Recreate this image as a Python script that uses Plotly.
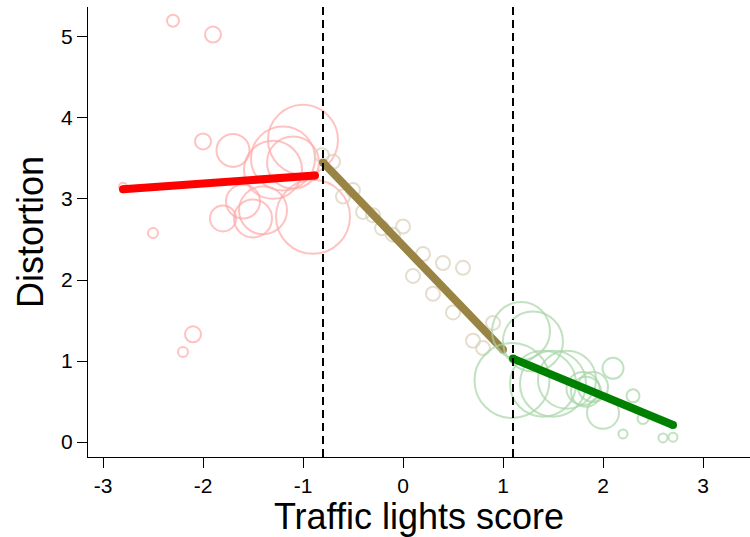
import plotly.graph_objects as go

# Scatter points per regime: x = traffic lights score, y = distortion, w = weight (marker diameter, px)
low_x = [-2.8, -2.30, -1.90, -2.00, -1.70, -2.50, -2.10, -2.20, -1.80, -1.60, -1.50, -1.40, -1.30, -1.20, -1.10, -1.00, -0.90]
low_y = [3.15, 5.20, 5.03, 3.71, 3.60, 2.58, 1.33, 1.11, 2.76, 2.97, 2.76, 2.86, 3.36, 3.50, 3.45, 3.73, 2.78]
low_w = [8, 12, 16, 16, 33, 10, 16, 10, 26, 34, 38, 48, 58, 64, 52, 70, 74]

mid_x = [-0.81, -0.70, -0.60, -0.50, -0.40, -0.30, -0.21, -0.10, 0.00, 0.10, 0.20, 0.30, 0.40, 0.50, 0.60, 0.70, 0.80, 0.90]
mid_y = [3.54, 3.46, 3.03, 3.11, 2.84, 2.80, 2.64, 2.56, 2.66, 2.05, 2.32, 1.83, 2.21, 1.60, 2.15, 1.25, 1.16, 1.47]
mid_w = [14] * len(mid_x)

high_x = [1.09, 1.18, 1.30, 1.40, 1.50, 1.64, 1.80, 1.83, 1.90, 2.00, 2.10, 2.30, 2.40, 2.20, 2.60, 2.70]
high_y = [0.76, 1.37, 1.24, 0.72, 0.72, 0.77, 0.66, 0.62, 0.68, 0.36, 0.91, 0.57, 0.29, 0.10, 0.05, 0.06]
high_w = [75, 58, 60, 66, 66, 58, 33, 30, 30, 32, 21, 13, 11, 9, 9, 9]

# Piecewise linear fits (segment end points)
fit_low_x, fit_low_y = [-2.8, -0.88], [3.12, 3.29]
fit_mid_x, fit_mid_y = [-0.8, 1.0], [3.45, 1.14]
fit_high_x, fit_high_y = [1.1, 2.7], [1.03, 0.21]

# Thresholds
cutoffs = [-0.8, 1.1]

x_ticks = [-3, -2, -1, 0, 1, 2, 3]
y_ticks = [0, 1, 2, 3, 4, 5]

FONT = "Liberation Sans, Arial, Helvetica, sans-serif"

fig = go.Figure()


def add_group(xs, ys, ws, ring, fx, fy, line):
    fig.add_trace(go.Scatter(
        x=xs, y=ys, mode="markers",
        marker=dict(size=ws, color="rgba(0,0,0,0)", line=dict(color=ring, width=2)),
        hoverinfo="skip", showlegend=False,
    ))
    fig.add_trace(go.Scatter(
        x=fx, y=fy, mode="lines+markers",
        line=dict(color=line, width=8),
        marker=dict(size=8, color=line),
        hoverinfo="skip", showlegend=False,
    ))


add_group(low_x, low_y, low_w, "#ffa9a9", fit_low_x, fit_low_y, "#ff0000")
add_group(mid_x, mid_y, mid_w, "#dbd1bb", fit_mid_x, fit_mid_y, "#9a8443")
add_group(high_x, high_y, high_w, "#a8d6a8", fit_high_x, fit_high_y, "#008000")

for c in cutoffs:
    fig.add_vline(x=c, line=dict(color="black", width=2, dash="8px,5px"))

fig.update_layout(
    width=750, height=537,
    margin=dict(l=88, r=0, t=7, b=80),
    plot_bgcolor="white", paper_bgcolor="white",
    font=dict(family=FONT, color="black", size=21),
    showlegend=False,
)
fig.update_xaxes(
    range=[-3.15, 3.47], tickvals=x_ticks, ticktext=[str(v) for v in x_ticks],
    showgrid=False, zeroline=False, showline=True, linecolor="black", linewidth=1.3,
    ticks="outside", ticklen=10, tickwidth=1.3, tickcolor="black",
    tickfont=dict(size=21),
    title=dict(text="Traffic lights score", font=dict(size=36), standoff=5),
)
fig.update_yaxes(
    range=[-0.185, 5.37], tickvals=y_ticks, ticktext=[str(v) for v in y_ticks],
    showgrid=False, zeroline=False, showline=True, linecolor="black", linewidth=1.3,
    ticks="outside", ticklen=10, tickwidth=1.3, tickcolor="black",
    tickfont=dict(size=21),
    title=dict(text="Distortion", font=dict(size=36), standoff=6),
)

fig.write_html("out.html")
